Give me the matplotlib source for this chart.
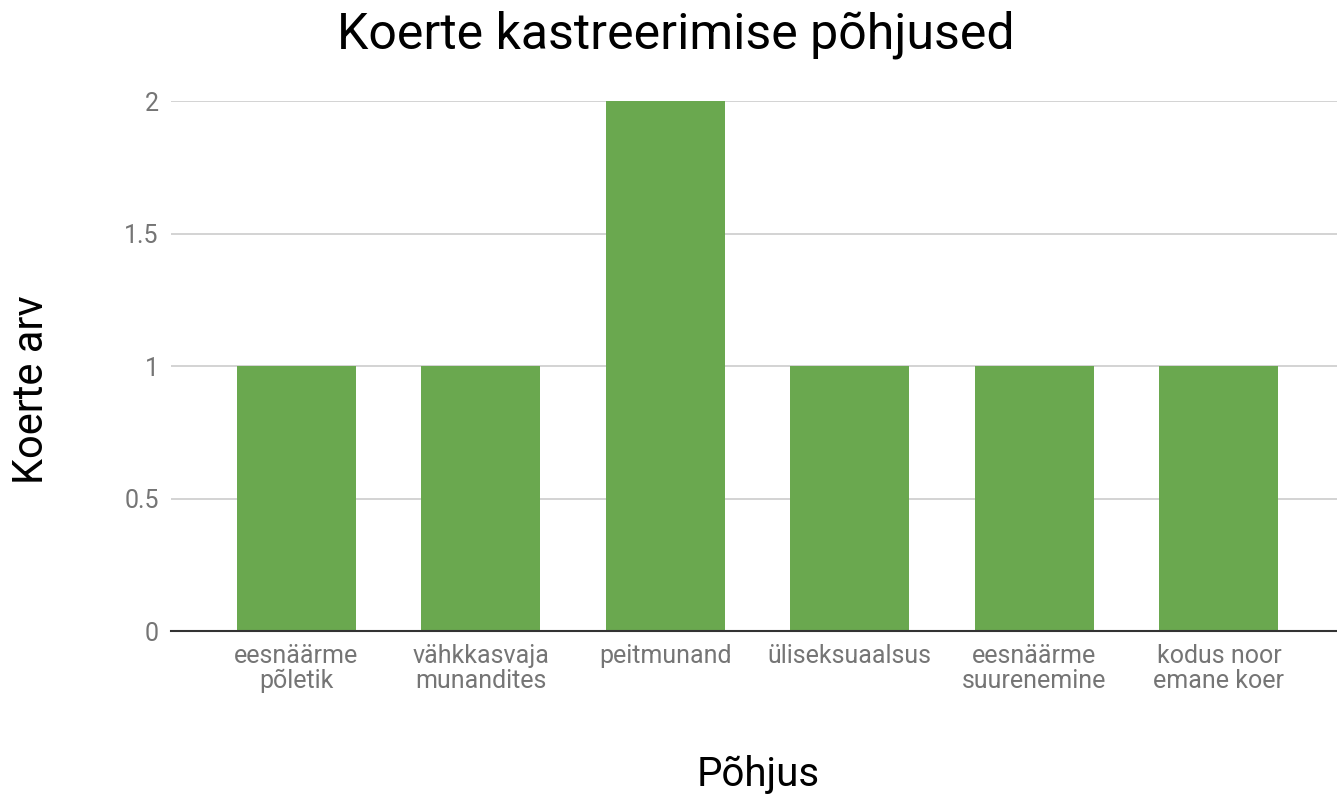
import matplotlib.pyplot as plt
import numpy as np

# Chart data
categories = ['eesnäärme\npõletik', 'vähkkasvaja\nmunandites', 'peitmunand',
              'üliseksuaalsus', 'eesnäärme\nsuurenemine', 'kodus noor\nemane koer']
counts = [1, 1, 2, 1, 1, 1]
y_ticks = [0, 0.5, 1, 1.5, 2]
y_tick_labels = ['0', '0.5', '1', '1.5', '2']

plt.rcParams['font.family'] = ['Roboto', 'DejaVu Sans']

W, H = 1337, 798
fig = plt.figure(figsize=(W / 100, H / 100), dpi=100)
ax = fig.add_axes([0.128, 0.209, 0.872, 0.664])

x = np.arange(len(categories))
ax.bar(x, counts, width=0.645, color='#6aa84f', zorder=3)

ax.set_xlim(-0.677, 5.64)
ax.set_ylim(0, 2)
ax.set_yticks(y_ticks)
ax.set_yticklabels(y_tick_labels)
ax.set_xticks(x)
ax.set_xticklabels(categories, linespacing=1.05)

# Grid and spines
ax.yaxis.grid(True, color='#cccccc', linewidth=1.2, zorder=0)
for side in ['top', 'right', 'left']:
    ax.spines[side].set_visible(False)
ax.spines['bottom'].set_color('#333333')
ax.spines['bottom'].set_linewidth(1.5)
ax.spines['bottom'].set_zorder(4)
ax.tick_params(axis='both', length=0, colors='#757575', labelsize=18)
ax.tick_params(axis='y', pad=9)
ax.tick_params(axis='x', pad=9)

# Titles placed in pixel positions
fig.text(676 / W, 1 - 35 / H, 'Koerte kastreerimise põhjused',
         fontsize=36, ha='center', va='center')
fig.text(32 / W, 1 - 390 / H, 'Koerte arv', fontsize=30,
         rotation=90, ha='center', va='center')
fig.text(758 / W, 1 - 775 / H, 'Põhjus', fontsize=29,
         ha='center', va='center')

fig.savefig('out.png', dpi=100)
